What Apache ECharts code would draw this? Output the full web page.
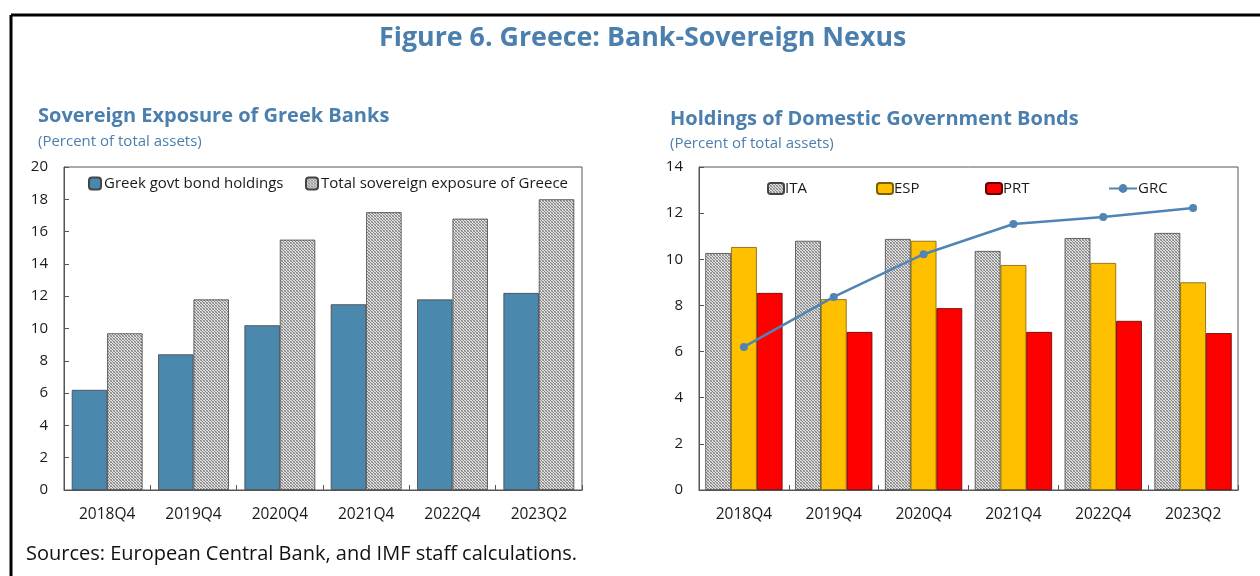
<!DOCTYPE html>
<html><head><meta charset="utf-8">
<script src="https://cdn.jsdelivr.net/npm/echarts@6/dist/echarts.min.js"></script>
<style>html,body{margin:0;padding:0;background:#fff}#c{width:1260px;height:576px}</style>
</head><body><div id="c"></div>
<script>
const categories = ['2018Q4','2019Q4','2020Q4','2021Q4','2022Q4','2023Q2'];
const greekBonds = [6.2, 8.4, 10.2, 11.5, 11.8, 12.2];
const totalSovereign = [9.7, 11.8, 15.5, 17.2, 16.8, 18.0];
const ita = [10.27, 10.8, 10.88, 10.36, 10.92, 11.14];
const esp = [10.53, 8.27, 10.8, 9.75, 9.84, 9.0];
const prt = [8.54, 6.85, 7.88, 6.85, 7.33, 6.8];
const grc = [6.2, 8.37, 10.22, 11.53, 11.83, 12.22];
const leftTicks = [0,2,4,6,8,10,12,14,16,18,20];
const rightTicks = [0,2,4,6,8,10,12,14];

const FONT = '"Open Sans", "Noto Sans", sans-serif';
const BLUE = '#4a7fae';

function pattern() {
  const c = document.createElement('canvas');
  c.width = 3; c.height = 3;
  const x = c.getContext('2d');
  x.fillStyle = '#e0e0e0'; x.fillRect(0,0,3,3);
  x.fillStyle = '#848484';
  x.fillRect(0,0,1,1); x.fillRect(1,1,1,1); x.fillRect(2,2,1,1);
  x.fillStyle = '#b0b0b0';
  x.fillRect(2,0,1,1); x.fillRect(0,2,1,1);
  return {image: c, repeat: 'repeat'};
}
const PAT = pattern();

const chart = echarts.init(document.getElementById('c'), null, {renderer: 'canvas'});
const axisLabel = {color: '#1a1a1a', fontSize: 15, fontFamily: FONT};
function yAxis(idx, max, ticks) {
  return {type: 'value', gridIndex: idx, min: 0, max: max, interval: 2,
    axisLine: {show: true, lineStyle: {color: '#555'}},
    axisTick: {show: true, inside: true, length: 5, lineStyle: {color: '#555'}},
    splitLine: {show: false},
    axisLabel: Object.assign({margin: 16, formatter: v => ticks.includes(v) ? String(v) : ''}, axisLabel)};
}
function xAxis(idx) {
  return {type: 'category', gridIndex: idx, data: categories,
    axisLine: {show: true, lineStyle: {color: '#555'}},
    axisTick: {show: true, inside: true, length: 5, alignWithLabel: false, lineStyle: {color: '#555'}},
    axisLabel: Object.assign({margin: 17}, axisLabel, {fontSize: 15.5})};
}
const border = {borderColor: '#444', borderWidth: 0.8};
const legendText = {fontSize: 15, color: '#1a1a1a', fontFamily: FONT};
const tightText = Object.assign({padding: [0, 0, 0, -4]}, legendText);
const leftText = Object.assign({padding: [0, 0, 0, -2]}, legendText);

chart.setOption({
  animation: false,
  textStyle: {fontFamily: FONT},
  title: [
    {text: 'Figure 6. Greece: Bank-Sovereign Nexus', left: 374, top: 20,
      textStyle: {fontSize: 26.8, fontWeight: 'bold', color: BLUE, fontFamily: FONT}},
    {text: 'Sovereign Exposure of Greek Banks', left: 33, top: 101,
      textStyle: {fontSize: 20, fontWeight: 'bold', color: BLUE, fontFamily: FONT}},
    {text: '(Percent of total assets)', left: 33, top: 129,
      textStyle: {fontSize: 15, fontWeight: 'normal', color: BLUE, fontFamily: FONT}},
    {text: 'Holdings of Domestic Government Bonds', left: 665, top: 104,
      textStyle: {fontSize: 20, fontWeight: 'bold', color: BLUE, fontFamily: FONT}},
    {text: '(Percent of total assets)', left: 665, top: 131,
      textStyle: {fontSize: 15, fontWeight: 'normal', color: BLUE, fontFamily: FONT}},
    {text: 'Sources: European Central Bank, and IMF staff calculations.', left: 21, top: 539,
      textStyle: {fontSize: 20, fontWeight: 'normal', color: '#111', fontFamily: FONT}}
  ],
  graphic: [
    {type: 'line', shape: {x1: 11, y1: 15, x2: 1260, y2: 15}, style: {stroke: '#000', lineWidth: 3}},
    {type: 'line', shape: {x1: 11, y1: 15, x2: 11, y2: 576}, style: {stroke: '#000', lineWidth: 3}}
  ],
  grid: [
    {left: 64, top: 167, width: 518, height: 323, show: true, borderColor: '#555', borderWidth: 1, backgroundColor: 'transparent'},
    {left: 699, top: 167, width: 539, height: 323, show: true, borderColor: '#555', borderWidth: 1, backgroundColor: 'transparent'}
  ],
  xAxis: [xAxis(0), xAxis(1)],
  yAxis: [yAxis(0, 20, leftTicks), yAxis(1, 14, rightTicks)],
  legend: [
    {data: ['Greek govt bond holdings'], left: 83, top: 171, itemWidth: 12, itemHeight: 12, textStyle: leftText},
    {data: ['Total sovereign exposure of Greece'], left: 300, top: 171, itemWidth: 12, itemHeight: 12, textStyle: leftText},
    {data: ['ITA'], left: 762, top: 176, itemWidth: 16, itemHeight: 11, textStyle: tightText},
    {data: ['ESP'], left: 871, top: 176, itemWidth: 16, itemHeight: 11, textStyle: tightText},
    {data: ['PRT'], left: 980, top: 176, itemWidth: 16, itemHeight: 11, textStyle: tightText},
    {data: ['GRC'], left: 1103, top: 176, itemWidth: 28, itemHeight: 11, textStyle: tightText}
  ],
  series: [
    {name: 'Greek govt bond holdings', type: 'bar', xAxisIndex: 0, yAxisIndex: 0, data: greekBonds,
      barGap: '0%', barCategoryGap: '18%', itemStyle: Object.assign({color: '#4a89ad'}, border)},
    {name: 'Total sovereign exposure of Greece', type: 'bar', xAxisIndex: 0, yAxisIndex: 0, data: totalSovereign,
      barGap: '0%', barCategoryGap: '18%', itemStyle: Object.assign({color: PAT}, border)},
    {name: 'ITA', type: 'bar', xAxisIndex: 1, yAxisIndex: 1, data: ita,
      barGap: '0%', barCategoryGap: '14%', itemStyle: Object.assign({color: PAT}, border)},
    {name: 'ESP', type: 'bar', xAxisIndex: 1, yAxisIndex: 1, data: esp,
      barGap: '0%', barCategoryGap: '14%', itemStyle: {color: '#ffc000', borderColor: '#7a6000', borderWidth: 0.8}},
    {name: 'PRT', type: 'bar', xAxisIndex: 1, yAxisIndex: 1, data: prt,
      barGap: '0%', barCategoryGap: '14%', itemStyle: {color: '#ff0000', borderColor: '#600', borderWidth: 0.8}},
    {name: 'GRC', type: 'line', xAxisIndex: 1, yAxisIndex: 1, data: grc, symbol: 'circle', symbolSize: 8,
      lineStyle: {color: '#4f84b4', width: 2.5}, itemStyle: {color: '#4f84b4'}, z: 5}
  ]
});
</script></body></html>
